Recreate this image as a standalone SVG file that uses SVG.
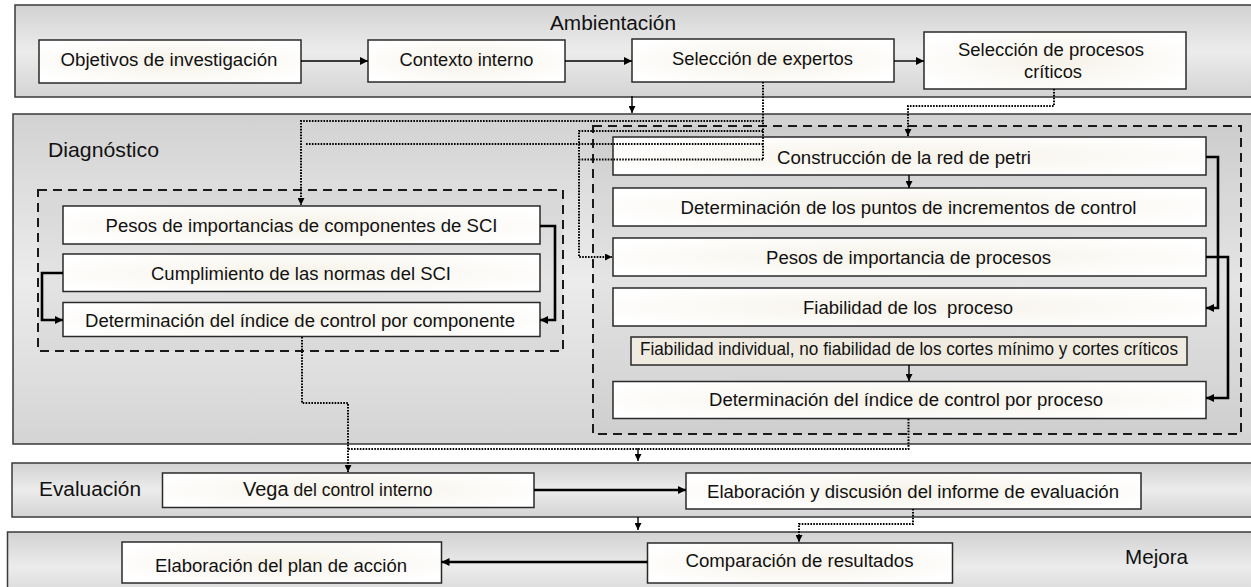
<svg xmlns="http://www.w3.org/2000/svg" width="1251" height="587" viewBox="0 0 1251 587">
<style>
text{font-family:"Liberation Sans",Arial,Helvetica,sans-serif;fill:#111;}
.band{fill:url(#bandg);stroke:#3a3a3a;stroke-width:1.5;}
.node{fill:url(#nodeg);stroke:#2a2a2a;stroke-width:1.5;}
.beige{fill:#efebe0;stroke:#2a2a2a;stroke-width:1.5;}
.t{font-size:17.5px;text-anchor:middle;}
.title{font-size:20px;}
.dash{fill:#000;fill-opacity:0.03;stroke:#1a1a1a;stroke-width:2;stroke-dasharray:9 6;}
.thin{fill:none;stroke:#000;stroke-width:1.4;}
.thick{fill:none;stroke:#000;stroke-width:2.6;}
.dot{fill:none;stroke:#000;stroke-width:2;stroke-dasharray:1.6 1.3;}
</style>
<defs>
<linearGradient id="bandg" x1="0" y1="0" x2="0" y2="1">
<stop offset="0" stop-color="#d2d2d2"/>
<stop offset="0.5" stop-color="#ececec"/>
<stop offset="1" stop-color="#d4d4d4"/>
</linearGradient>
<radialGradient id="nodeg" cx="0.5" cy="0.5" r="0.6">
<stop offset="0" stop-color="#f6f2e8"/>
<stop offset="1" stop-color="#ffffff"/>
</radialGradient>
<marker id="ah" viewBox="0 0 10 10" refX="10" refY="5" markerWidth="9" markerHeight="8" orient="auto" markerUnits="userSpaceOnUse"><path d="M0,0 L10,5 L0,10 z" fill="#000"/></marker>
<marker id="ahs" viewBox="0 0 10 10" refX="10" refY="5" markerWidth="8" markerHeight="7" orient="auto" markerUnits="userSpaceOnUse"><path d="M0,0 L10,5 L0,10 z" fill="#000"/></marker>
</defs>

<g id="bands">
<rect class="band" x="15" y="5" width="1250" height="92"/>
<rect class="band" x="13" y="114" width="1250" height="330"/>
<rect class="band" x="12" y="463" width="1250" height="54"/>
<rect class="band" x="7.5" y="532" width="1260" height="70"/>
<text class="title" x="613" y="30" text-anchor="middle" textLength="126" lengthAdjust="spacingAndGlyphs">Ambientación</text>
<text x="48" y="157" font-size="21" textLength="111" lengthAdjust="spacingAndGlyphs">Diagnóstico</text>
<text class="title" x="39" y="496" textLength="102" lengthAdjust="spacingAndGlyphs">Evaluación</text>
<text x="1125" y="564" font-size="21" textLength="63" lengthAdjust="spacingAndGlyphs">Mejora</text>
<rect class="dash" x="38" y="190" width="525" height="161"/>
<rect class="dash" x="593" y="126" width="648" height="308"/>
</g>

<g id="n-objetivos"><rect class="node" x="39" y="40" width="262" height="43"/><text class="t" x="169" y="65.5" textLength="217" lengthAdjust="spacingAndGlyphs">Objetivos de investigación</text></g>
<g id="n-contexto"><rect class="node" x="368" y="40" width="197" height="42"/><text class="t" x="466.5" y="65.5" textLength="134" lengthAdjust="spacingAndGlyphs">Contexto interno</text></g>
<g id="n-expertos"><rect class="node" x="632" y="39" width="262" height="43"/><text class="t" x="762.5" y="65" textLength="181" lengthAdjust="spacingAndGlyphs">Selección de expertos</text></g>
<g id="n-procesos-criticos"><rect class="node" x="924" y="32" width="262" height="57"/><text class="t" x="1051" y="56" textLength="186" lengthAdjust="spacingAndGlyphs">Selección de procesos</text><text class="t" x="1053" y="78" textLength="58" lengthAdjust="spacingAndGlyphs">críticos</text></g>

<g id="n-pesos-sci"><rect class="node" x="63" y="206" width="477" height="38"/><text class="t" x="301.5" y="232" textLength="392" lengthAdjust="spacingAndGlyphs">Pesos de importancias de componentes de SCI</text></g>
<g id="n-cumplimiento"><rect class="node" x="63" y="254" width="477" height="37.5"/><text class="t" x="301" y="279.5" textLength="300" lengthAdjust="spacingAndGlyphs">Cumplimiento de las normas del SCI</text></g>
<g id="n-indice-componente"><rect class="node" x="63" y="302.5" width="477" height="34"/><text class="t" x="300" y="326.5" textLength="430" lengthAdjust="spacingAndGlyphs">Determinación del índice de control por componente</text></g>

<g id="n-petri"><rect class="node" x="613" y="137" width="593" height="38"/><text class="t" x="904" y="164" textLength="254" lengthAdjust="spacingAndGlyphs">Construcción de la red de petri</text></g>
<g id="n-puntos"><rect class="node" x="613" y="188" width="593" height="38"/><text class="t" x="908.5" y="213.5" textLength="456" lengthAdjust="spacingAndGlyphs">Determinación de los puntos de incrementos de control</text></g>
<g id="n-pesos-procesos"><rect class="node" x="613" y="238" width="593" height="38"/><text class="t" x="908.5" y="263.5" textLength="285" lengthAdjust="spacingAndGlyphs">Pesos de importancia de procesos</text></g>
<g id="n-fiabilidad"><rect class="node" x="613" y="288" width="593" height="38"/><text class="t" x="908" y="313.5" xml:space="preserve" textLength="210" lengthAdjust="spacingAndGlyphs">Fiabilidad de los  proceso</text></g>
<g id="n-fiab-individual"><rect class="beige" x="631" y="337" width="556" height="28"/><text class="t" x="909" y="355" font-size="15" textLength="538" lengthAdjust="spacingAndGlyphs">Fiabilidad individual, no fiabilidad de los cortes mínimo y cortes críticos</text></g>
<g id="n-indice-proceso"><rect class="node" x="613" y="381.5" width="593" height="37"/><text class="t" x="906" y="405.5" textLength="394" lengthAdjust="spacingAndGlyphs">Determinación del índice de control por proceso</text></g>

<g id="n-vega"><rect class="node" x="162.5" y="473" width="371.5" height="34.5"/><text x="243" y="496"><tspan font-size="20">Vega</tspan><tspan font-size="17.5"> del control interno</tspan></text></g>
<g id="n-informe"><rect class="node" x="686" y="473" width="455" height="36"/><text class="t" x="913" y="497.5" textLength="412" lengthAdjust="spacingAndGlyphs">Elaboración y discusión del informe de evaluación</text></g>
<g id="n-plan"><rect class="node" x="122" y="542" width="319.5" height="41"/><text class="t" x="281" y="571.5" font-size="18" textLength="252" lengthAdjust="spacingAndGlyphs">Elaboración del plan de acción</text></g>
<g id="n-comparacion"><rect class="node" x="647.5" y="543" width="305" height="40"/><text class="t" x="799.5" y="567" textLength="228" lengthAdjust="spacingAndGlyphs">Comparación de resultados</text></g>

<g id="connectors">
<line class="thin" x1="301" y1="61" x2="368" y2="61" marker-end="url(#ah)"/>
<line class="thin" x1="565" y1="61" x2="632" y2="61" marker-end="url(#ah)"/>
<line class="thin" x1="894" y1="61" x2="924" y2="61" marker-end="url(#ah)"/>
<line class="thin" x1="632" y1="96" x2="632" y2="113" marker-end="url(#ahs)"/>
<line class="thin" x1="909" y1="175" x2="909" y2="188" marker-end="url(#ahs)"/>
<line class="thin" x1="909" y1="365" x2="909" y2="381" marker-end="url(#ahs)"/>
<line class="thin" x1="638" y1="448" x2="638" y2="461" marker-end="url(#ahs)"/>
<line class="thin" x1="638" y1="517" x2="638" y2="530" marker-end="url(#ahs)"/>
<line class="thick" x1="534" y1="490" x2="686" y2="490" marker-end="url(#ah)"/>
<line class="thick" x1="647.5" y1="562" x2="441.5" y2="562" marker-end="url(#ah)"/>
<polyline class="thick" points="540,226 555,226 555,320 540,320" marker-end="url(#ah)"/>
<polyline class="thick" points="63,273 42,273 42,320 63,320" marker-end="url(#ah)"/>
<polyline class="thick" points="1206,157 1218,157 1218,308 1206,308" marker-end="url(#ah)"/>
<polyline class="thick" points="1206,257 1228,257 1228,398 1206,398" marker-end="url(#ah)"/>
<polyline class="dot" points="763,82 763,159.5"/>
<polyline class="dot" points="763,121 301,121 301,205" marker-end="url(#ahs)"/>
<polyline class="dot" points="763,144 305,144"/>
<polyline class="dot" points="763,131 579,131 579,257 612,257" marker-end="url(#ahs)"/>
<polyline class="dot" points="763,159.5 579,159.5"/>
<polyline class="dot" points="1054,89 1054,106 908,106 908,136" marker-end="url(#ahs)"/>
<polyline class="dot" points="302,337 302,403 348,403 348,472" marker-end="url(#ahs)"/>
<polyline class="dot" points="908.5,419 908.5,449 348,449"/>
<polyline class="dot" points="913,509 913,524 799,524 799,542" marker-end="url(#ahs)"/>
</g>
</svg>
